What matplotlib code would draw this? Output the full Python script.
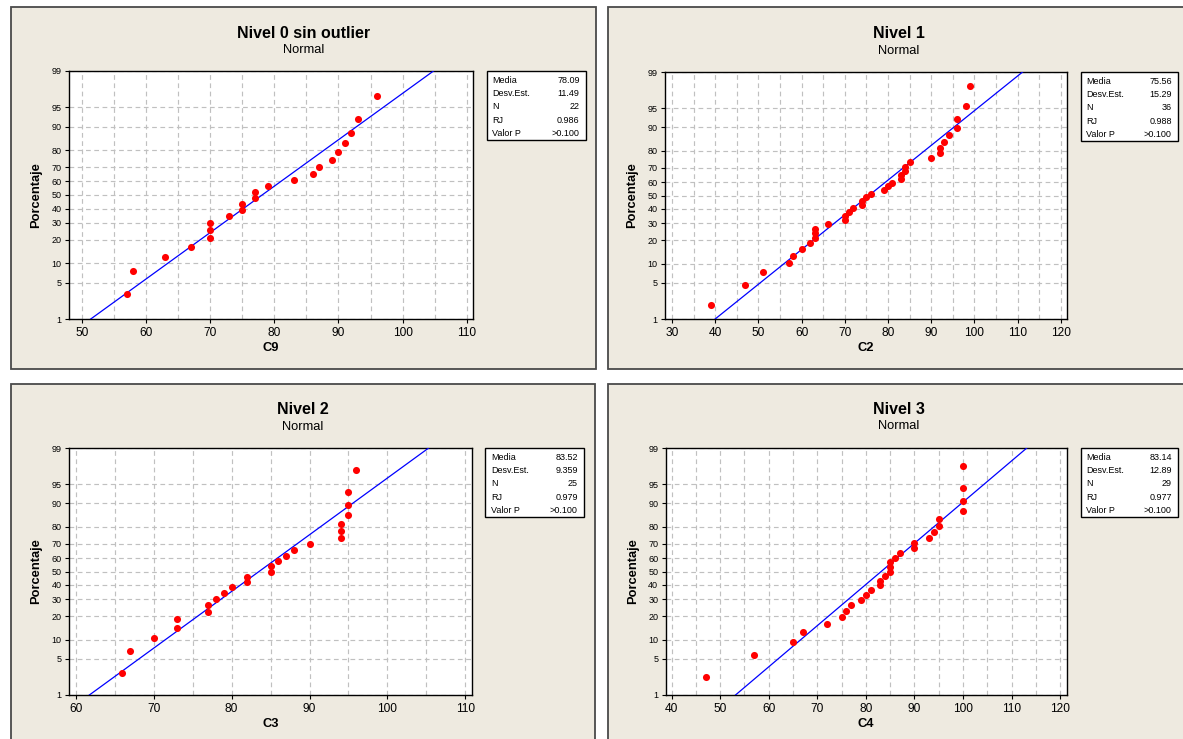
import numpy as np
import matplotlib
matplotlib.use("Agg")
import matplotlib.pyplot as plt
from matplotlib.patches import Rectangle
from matplotlib.ticker import NullLocator
from statistics import NormalDist

plt.rcParams['font.family'] = ['Liberation Sans', 'DejaVu Sans']

# ---------------- data ----------------
titles = ["Nivel 0 sin outlier", "Nivel 1", "Nivel 2", "Nivel 3"]
subtitle = "Normal"
xlabels = ["C9", "C2", "C3", "C4"]
ylabel = "Porcentaje"

c9 = [57, 58, 63, 67, 70, 70, 70, 73, 75, 75, 77, 77, 79, 83, 86, 87, 89, 90, 91, 92, 93, 96]
c2 = [39, 47, 51, 57, 58, 60, 62, 63, 63, 63, 66, 70, 70, 71, 72, 74, 74, 75, 76, 79,
      80, 81, 83, 83, 84, 84, 85, 90, 92, 92, 93, 94, 96, 96, 98, 99]
c3 = [66, 67, 70, 73, 73, 77, 77, 78, 79, 80, 82, 82, 85, 85, 86, 87, 88, 90, 94, 94,
      94, 95, 95, 95, 96]
c4 = [47, 57, 65, 67, 72, 75, 76, 77, 79, 80, 81, 83, 83, 84, 85, 85, 85, 86, 87, 90,
      90, 93, 94, 95, 95, 100, 100, 100, 100]

media = [78.09, 75.56, 83.52, 83.14]
desv_est = [11.49, 15.29, 9.359, 12.89]
n_vals = [22, 36, 25, 29]
rj = [0.986, 0.988, 0.979, 0.977]
valor_p = [">0.100", ">0.100", ">0.100", ">0.100"]
stat_names = ["Media", "Desv.Est.", "N", "RJ", "Valor P"]

x_ticks = [[50, 60, 70, 80, 90, 100, 110],
           [30, 40, 50, 60, 70, 80, 90, 100, 110, 120],
           [60, 70, 80, 90, 100, 110],
           [40, 50, 60, 70, 80, 90, 100, 110, 120]]
x_limits = [(48.0, 111.0), (28.45, 121.3), (59.16, 110.84), (38.8, 121.3)]
y_ticks = [1, 5, 10, 20, 30, 40, 50, 60, 70, 80, 90, 95, 99]

datasets = [c9, c2, c3, c4]

# ---------------- layout (pixels) ----------------
W, H = 1183, 739
fig = plt.figure(figsize=(W / 100, H / 100), dpi=100)
fig.patch.set_facecolor('white')

def fr(x0, y0, x1, y1):
    return [x0 / W, 1 - y1 / H, (x1 - x0) / W, (y1 - y0) / H]

def fx(x):
    return x / W

def fy(y):
    return 1 - y / H

panels = [(11, 7, 596, 369), (608, 7, 1192, 369), (11, 384, 595, 748), (608, 384, 1192, 748)]
axes_px = [(69.2, 71, 473.1, 319), (665.3, 72, 1066.5, 319),
           (69.2, 448, 471.9, 695), (665.8, 448, 1066.5, 695)]
legend_px = [(486.9, 71, 586.2, 140), (1080.5, 72, 1178.3, 141),
             (485.4, 448, 584.2, 517), (1080.5, 448, 1178.3, 517)]
title_xy = [(303.5, 33), (898.5, 34), (302.7, 410), (898.5, 409)]

_nd = NormalDist()
_fwd = np.vectorize(lambda v: _nd.inv_cdf(min(max(v, 1e-6), 100 - 1e-6) / 100.0), otypes=[float])
_inv = np.vectorize(lambda v: _nd.cdf(v) * 100.0, otypes=[float])

def forward(p):
    return _fwd(np.asarray(p, dtype=float))

def inverse(z):
    return _inv(np.asarray(z, dtype=float))

beige = '#EEEAE0'
grid_col = '#C0C0C0'

for k in range(4):
    px0, py0, px1, py1 = panels[k]
    fig.patches.append(Rectangle((fx(px0), fy(py1)), (px1 - px0) / W, (py1 - py0) / H,
                                 transform=fig.transFigure, facecolor=beige,
                                 edgecolor='#4a4a4a', linewidth=1.3, zorder=-5))

    ax = fig.add_axes(fr(*axes_px[k]))
    ax.set_facecolor('white')
    ax.set_yscale('function', functions=(forward, inverse))
    ax.set_ylim(1, 99)
    ax.set_xlim(*x_limits[k])

    data = np.sort(np.asarray(datasets[k], dtype=float))
    n = len(data)
    pct = (np.arange(1, n + 1) - 0.3) / (n + 0.4) * 100.0

    p_line = np.array([0.2, 50.0, 99.8])
    x_line = media[k] + desv_est[k] * forward(p_line)
    ax.plot(x_line, p_line, color='#0000FF', lw=0.9, zorder=3)
    ax.plot(data, pct, 'o', color='#FF0000', markersize=5.1, markeredgewidth=0, zorder=4)

    ax.set_yticks(y_ticks)
    ax.set_yticklabels([str(t) for t in y_ticks])
    ax.yaxis.set_minor_locator(NullLocator())
    xt = x_ticks[k]
    ax.set_xticks(xt)
    ax.set_xticklabels([str(t) for t in xt])
    ax.set_xticks(np.arange(xt[0], xt[-1] + 1, 5), minor=True)

    ax.grid(axis='x', which='both', color=grid_col, linestyle=(0, (4, 3)), linewidth=0.85, zorder=0)
    ax.grid(axis='y', which='major', color=grid_col, linestyle=(0, (4, 3)), linewidth=0.85, zorder=0)
    ax.set_axisbelow(True)

    ax.tick_params(axis='x', which='major', direction='out', length=3, width=0.8,
                   pad=2.5, labelsize=8.6, colors='black')
    ax.tick_params(axis='x', which='minor', length=0)
    ax.tick_params(axis='y', which='major', direction='out', length=3, width=0.8,
                   pad=2.5, labelsize=6.5, colors='black')
    for s in ax.spines.values():
        s.set_linewidth(1.0)
        s.set_color('black')

    # titles and axis labels
    tx, ty = title_xy[k]
    fig.text(fx(tx), fy(ty), titles[k], ha='center', va='center', fontsize=11.5, fontweight='bold')
    fig.text(fx(tx), fy(ty + 17), subtitle, ha='center', va='center', fontsize=9.3)

    ax0, ay0, ax1, ay1 = axes_px[k]
    fig.text(fx(ax0 - 33), fy((ay0 + ay1) / 2), ylabel, rotation=90, ha='center', va='center',
             fontsize=9.3, fontweight='bold')
    fig.text(fx((ax0 + ax1) / 2), fy(ay1 + 29), xlabels[k], ha='center', va='center',
             fontsize=9.3, fontweight='bold')

    # statistics box
    lx0, ly0, lx1, ly1 = legend_px[k]
    fig.patches.append(Rectangle((fx(lx0), fy(ly1)), (lx1 - lx0) / W, (ly1 - ly0) / H,
                                 transform=fig.transFigure, facecolor='white',
                                 edgecolor='black', linewidth=1.0, zorder=2))
    values = [f"{media[k]:.2f}", str(desv_est[k]), str(n_vals[k]), f"{rj[k]:.3f}", valor_p[k]]
    for r in range(5):
        yy = ly0 + 9.5 + r * 13.2
        fig.text(fx(lx0 + 5.5), fy(yy), stat_names[r], ha='left', va='center', fontsize=6.5, zorder=3)
        fig.text(fx(lx1 - 6.5), fy(yy), values[r], ha='right', va='center', fontsize=6.5, zorder=3)

fig.savefig("out.png", dpi=100, facecolor=fig.get_facecolor())
